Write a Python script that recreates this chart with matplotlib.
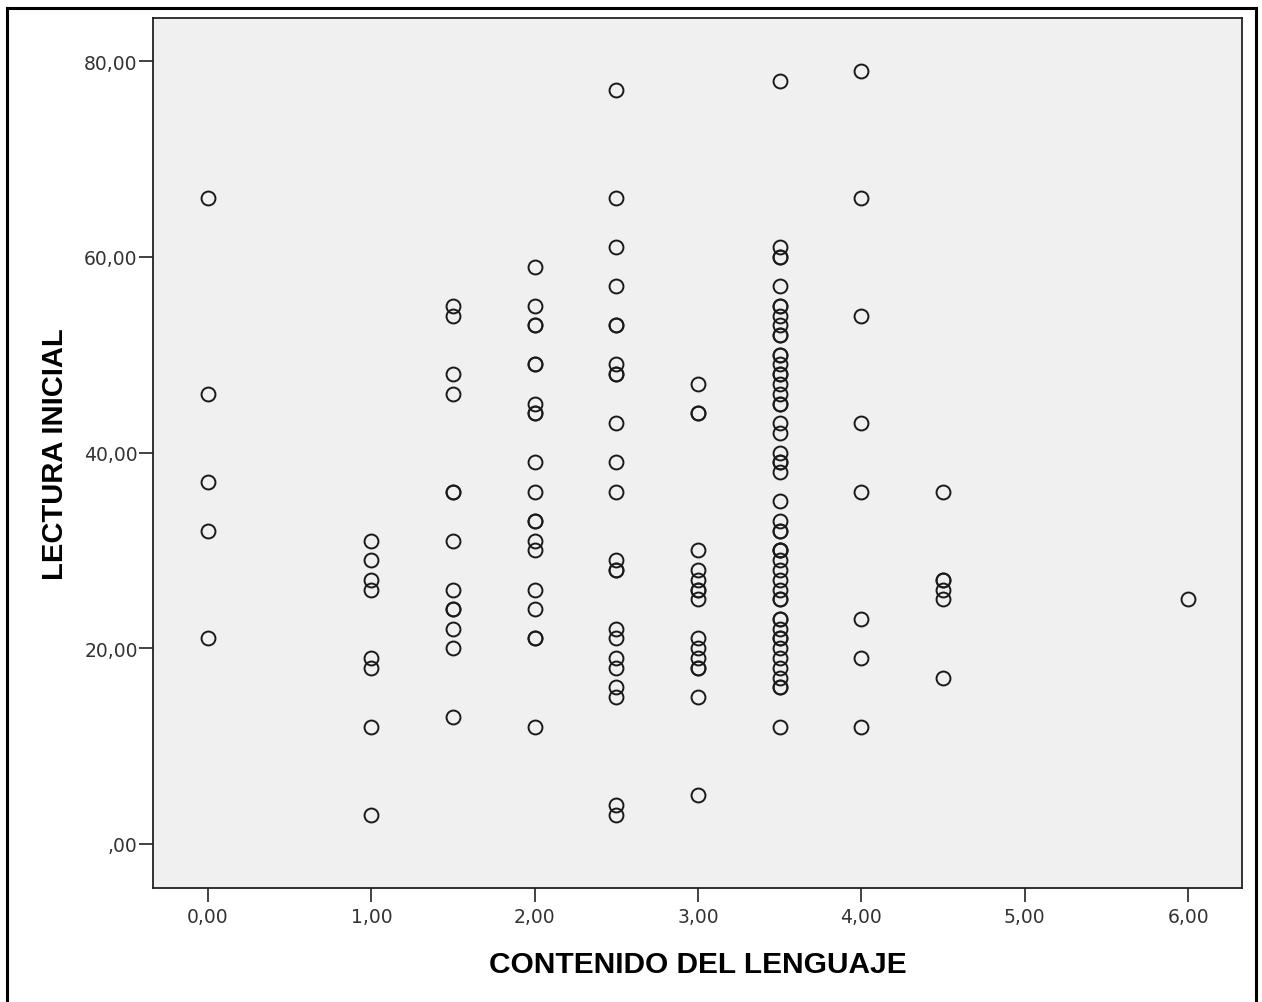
import numpy as np
import matplotlib.pyplot as plt
from matplotlib.lines import Line2D

plt.rcParams['font.family'] = ['Liberation Sans', 'DejaVu Sans']

# Valores de LECTURA INICIAL por cada nivel de CONTENIDO DEL LENGUAJE
x_levels = [0.0, 1.0, 1.5, 2.0, 2.5, 3.0, 3.5, 4.0, 4.5, 6.0]
lect_00 = [66, 46, 37, 32, 21]
lect_10 = [31, 29, 27, 26, 19, 18, 12, 3]
lect_15 = [55, 54, 48, 46, 36, 36, 31, 26, 24, 24, 22, 20, 13]
lect_20 = [59, 55, 53, 53, 49, 49, 45, 44, 44, 39, 36, 33, 33, 31, 30,
           26, 24, 21, 21, 12]
lect_25 = [77, 66, 61, 57, 53, 53, 49, 48, 48, 43, 39, 36, 29, 28, 28,
           22, 21, 19, 18, 16, 15, 4, 3]
lect_30 = [47, 44, 44, 30, 28, 27, 26, 26, 25, 21, 20, 19, 18, 18, 15, 5]
lect_35 = [78, 61, 60, 60, 57, 55, 55, 54, 53, 52, 52, 50, 50, 49, 48,
           48, 47, 46, 45, 45, 43, 42, 40, 39, 39, 38, 35, 33, 32, 32,
           30, 30, 30, 29, 28, 27, 26, 25, 25, 23, 23, 22, 21, 21, 20,
           19, 18, 17, 16, 16, 12]
lect_40 = [79, 66, 54, 43, 36, 23, 19, 12]
lect_45 = [36, 27, 27, 26, 25, 17]
lect_60 = [25]

groups = [lect_00, lect_10, lect_15, lect_20, lect_25,
          lect_30, lect_35, lect_40, lect_45, lect_60]

x_ticks = [0, 1, 2, 3, 4, 5, 6]
x_tick_labels = ['0,00', '1,00', '2,00', '3,00', '4,00', '5,00', '6,00']
y_ticks = [0, 20, 40, 60, 80]
y_tick_labels = [',00', '20,00', '40,00', '60,00', '80,00']

W, H = 1262, 1003
fig = plt.figure(figsize=(W / 100, H / 100), dpi=100)
fig.patch.set_facecolor('white')

ax = fig.add_axes([153 / W, 1 - 889 / H, (1242 - 153) / W, (889 - 19) / H])
ax.set_facecolor('#f0f0f0')

xs = np.concatenate([[xv] * len(g) for xv, g in zip(x_levels, groups)])
ys = np.concatenate(groups)
ax.plot(xs, ys, linestyle='none', marker='o', markersize=10,
        markerfacecolor='none', markeredgecolor='#1a1a1a', markeredgewidth=1.4)

ax.set_xlim(-0.337, 6.33)
ax.set_ylim(-4.5, 84.4)
ax.set_xticks(x_ticks)
ax.set_xticklabels(x_tick_labels)
ax.set_yticks(y_ticks)
ax.set_yticklabels(y_tick_labels)
ax.tick_params(direction='out', length=10, width=1.2, colors='#222222',
               labelsize=13.5, labelcolor='#333333')
ax.tick_params(axis='x', pad=4)
ax.tick_params(axis='y', pad=1)
for lab in ax.get_xticklabels() + ax.get_yticklabels():
    lab.set_family('DejaVu Sans')

for s in ax.spines.values():
    s.set_linewidth(1.3)
    s.set_color('#222222')

ax.set_xlabel('CONTENIDO DEL LENGUAJE', fontsize=21.5, fontweight='bold', va='center')
ax.xaxis.set_label_coords(0.5, (889 - 965) / 870)
ax.set_ylabel('LECTURA INICIAL', fontsize=21, fontweight='bold', va='center')
ax.yaxis.set_label_coords((55 - 153) / 1089, 0.5)

# marco exterior
frame_kw = dict(color='black', linewidth=2.2, transform=fig.transFigure)
fig.add_artist(Line2D([7 / W, 7 / W], [0, 1 - 9 / H], **frame_kw))
fig.add_artist(Line2D([1256 / W, 1256 / W], [0, 1 - 9 / H], **frame_kw))
fig.add_artist(Line2D([7 / W, 1256 / W], [1 - 9 / H, 1 - 9 / H], **frame_kw))

fig.savefig('out.png', dpi=100)
